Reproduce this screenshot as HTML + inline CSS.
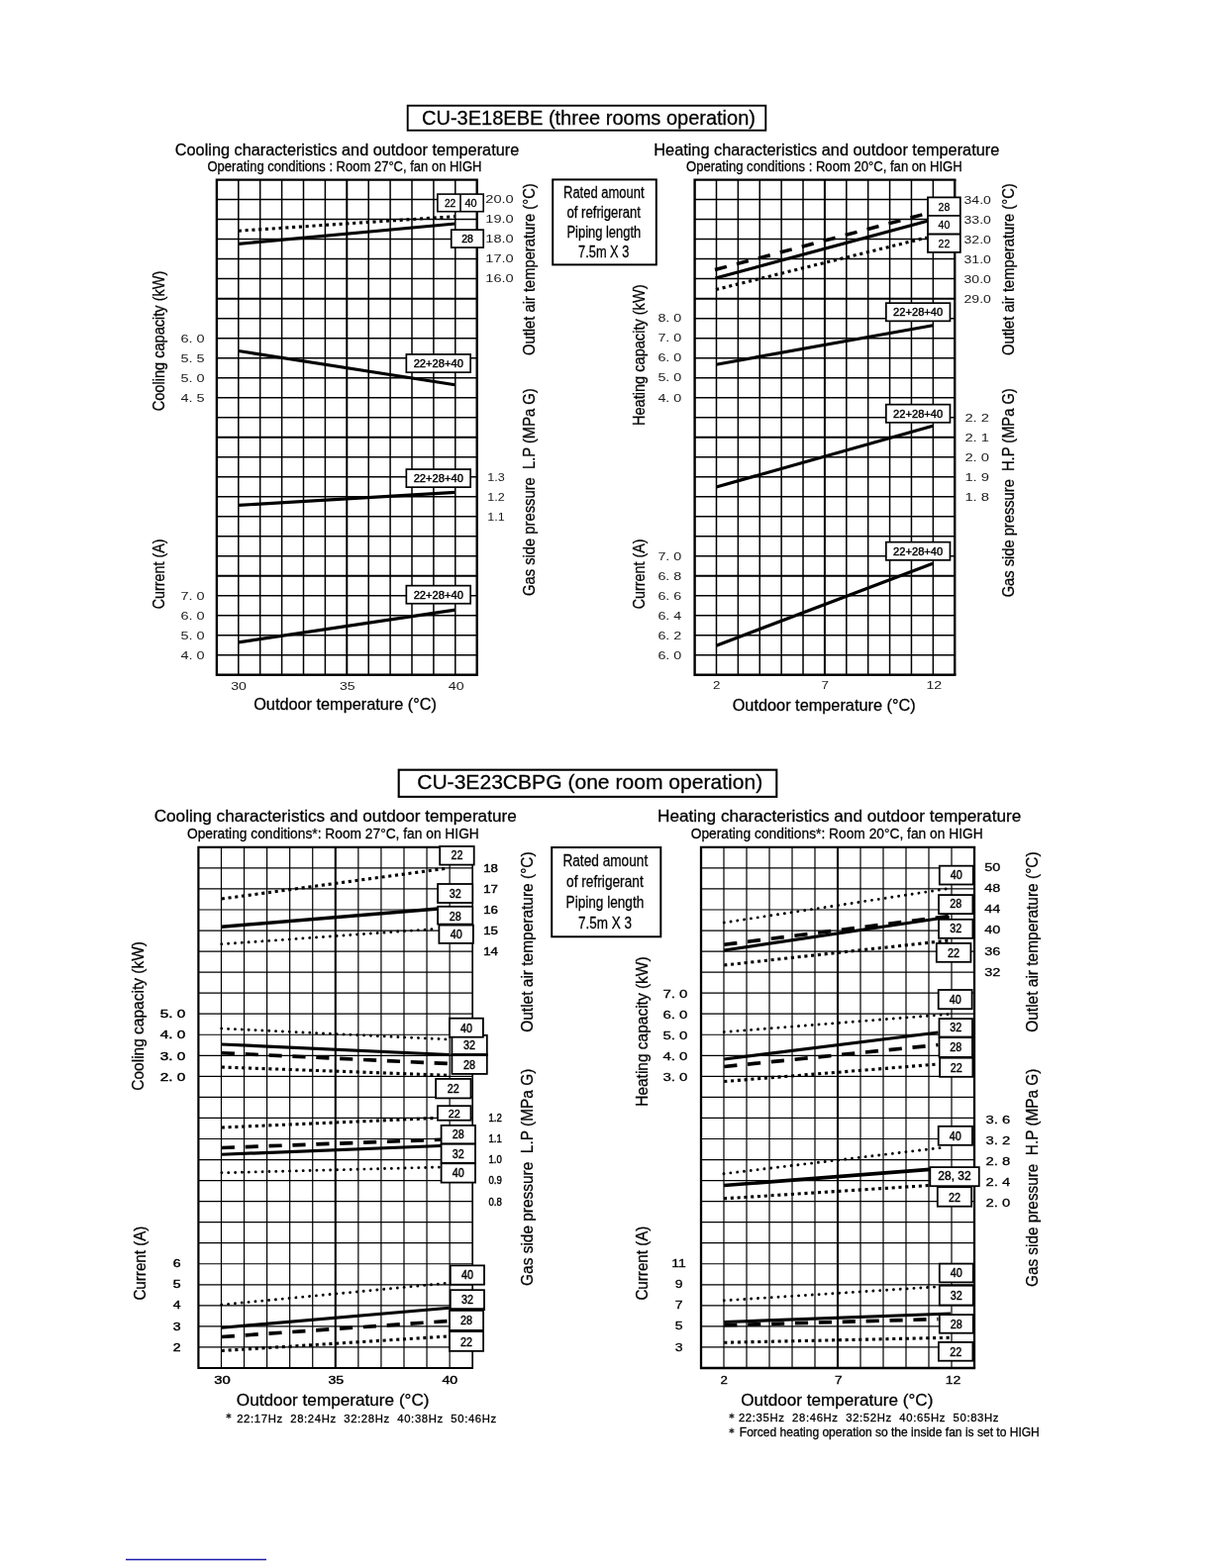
<!DOCTYPE html>
<html lang="en"><head><meta charset="utf-8"><title>Operating characteristics</title>
<style>html,body{margin:0;padding:0;background:#fff}svg{display:block}text{font-family:"Liberation Sans",sans-serif;fill:#000;stroke:#000;stroke-width:.28px;white-space:pre}text.n{stroke:none;fill:#1a1a1a}text.b{stroke-width:.42px}</style></head><body>
<svg width="1224" height="1584" viewBox="0 0 1224 1584">
<rect width="1224" height="1584" fill="#fff"/>
<rect x="411.7" y="106.7" width="361.6" height="25" fill="none" stroke="#000" stroke-width="1.9"/>
<text font-size="20.5" textLength="337" lengthAdjust="spacingAndGlyphs" x="426" y="126.3" xml:space="preserve">CU-3E18EBE (three rooms operation)</text>
<text font-size="16.5" textLength="347.4" lengthAdjust="spacingAndGlyphs" x="176.8" y="156.8" xml:space="preserve">Cooling characteristics and outdoor temperature</text>
<text font-size="14" textLength="277" lengthAdjust="spacingAndGlyphs" x="209.5" y="173.1" xml:space="preserve">Operating conditions : Room 27°C, fan on HIGH</text>
<text font-size="16.5" textLength="349" lengthAdjust="spacingAndGlyphs" x="660.3" y="156.6" xml:space="preserve">Heating characteristics and outdoor temperature</text>
<text font-size="14" textLength="278.7" lengthAdjust="spacingAndGlyphs" x="693" y="173.1" xml:space="preserve">Operating conditions : Room 20°C, fan on HIGH</text>
<rect x="558.2" y="181.4" width="104.6" height="86" fill="none" stroke="#000" stroke-width="2"/>
<text font-size="16" textLength="81.6" lengthAdjust="spacingAndGlyphs" x="569" y="199.8" xml:space="preserve">Rated amount</text>
<text font-size="16" textLength="74.4" lengthAdjust="spacingAndGlyphs" x="572.5" y="219.6" xml:space="preserve">of refrigerant</text>
<text font-size="16" textLength="74.7" lengthAdjust="spacingAndGlyphs" x="572.5" y="239.6" xml:space="preserve">Piping length</text>
<text font-size="16" textLength="51.2" lengthAdjust="spacingAndGlyphs" x="584.1" y="259.7" xml:space="preserve">7.5m X 3</text>
<path d="M240.80 181.60V681.73M262.70 181.60V681.73M284.60 181.60V681.73M306.50 181.60V681.73M328.40 181.60V681.73M372.20 181.60V681.73M394.10 181.60V681.73M416.00 181.60V681.73M437.90 181.60V681.73M459.80 181.60V681.73M218.90 201.60H481.70M218.90 221.61H481.70M218.90 241.62H481.70M218.90 261.62H481.70M218.90 281.62H481.70M218.90 321.63H481.70M218.90 341.64H481.70M218.90 361.64H481.70M218.90 381.65H481.70M218.90 401.65H481.70M218.90 421.66H481.70M218.90 461.67H481.70M218.90 481.67H481.70M218.90 501.68H481.70M218.90 521.68H481.70M218.90 541.69H481.70M218.90 561.69H481.70M218.90 601.70H481.70M218.90 621.71H481.70M218.90 641.71H481.70M218.90 661.72H481.70" stroke="#000" stroke-width="1.5" fill="none"/>
<path d="M350.30 181.60V681.73M218.90 301.63H481.70M218.90 441.66H481.70M218.90 581.70H481.70" stroke="#000" stroke-width="2" fill="none"/>
<path d="M217.70 181.60H482.90M217.70 681.73H482.90M218.90 181.60V681.73" stroke="#000" stroke-width="2.4" fill="none"/>
<path d="M481.70 181.60V681.73" stroke="#000" stroke-width="2.4" fill="none"/>
<line x1="240.8" y1="233.2" x2="460" y2="218.6" stroke="#000" stroke-width="3.1" stroke-dasharray="3.1 3.7"/>
<line x1="240.8" y1="246.4" x2="459.5" y2="226" stroke="#000" stroke-width="3.2"/>
<line x1="240.75" y1="354.5" x2="459.5" y2="388.75" stroke="#000" stroke-width="3.2"/>
<line x1="240.8" y1="510.4" x2="459.7" y2="497.3" stroke="#000" stroke-width="3.2"/>
<line x1="240.8" y1="648.8" x2="459.7" y2="616.1" stroke="#000" stroke-width="3.2"/>
<rect x="441.9" y="196.1" width="46.3" height="17.6" fill="#fff" stroke="#000" stroke-width="1.6"/>
<line x1="465" y1="196.1" x2="465" y2="213.7" stroke="#000" stroke-width="1.6"/>
<text font-size="10.5" textLength="11.4" lengthAdjust="spacingAndGlyphs" x="448.9" y="208.9" xml:space="preserve">22</text>
<text font-size="10.5" textLength="12.1" lengthAdjust="spacingAndGlyphs" x="469.4" y="208.9" xml:space="preserve">40</text>
<rect x="455.75" y="232.15" width="32.45" height="17.90" fill="#fff" stroke="#000" stroke-width="1.7"/>
<text font-size="11" text-anchor="middle" class="b" textLength="11.7" lengthAdjust="spacingAndGlyphs" x="471.975" y="244.7" xml:space="preserve">28</text>
<rect x="410.35" y="357.95" width="64.80" height="18.20" fill="#fff" stroke="#000" stroke-width="1.7"/>
<text font-size="11" text-anchor="middle" class="b" textLength="50.2" lengthAdjust="spacingAndGlyphs" x="442.75" y="370.7" xml:space="preserve">22+28+40</text>
<rect x="410.35" y="474.05" width="64.80" height="18.10" fill="#fff" stroke="#000" stroke-width="1.7"/>
<text font-size="11" text-anchor="middle" class="b" textLength="50.2" lengthAdjust="spacingAndGlyphs" x="442.75" y="487.038" xml:space="preserve">22+28+40</text>
<rect x="410.35" y="591.65" width="64.80" height="18.10" fill="#fff" stroke="#000" stroke-width="1.7"/>
<text font-size="11" text-anchor="middle" class="b" textLength="50.2" lengthAdjust="spacingAndGlyphs" x="442.75" y="604.638" xml:space="preserve">22+28+40</text>
<text font-size="11.8" font-family='"DejaVu Sans", "Liberation Sans", sans-serif' class="n" textLength="24.2" lengthAdjust="spacingAndGlyphs" x="182.4" y="346.107" xml:space="preserve">6. 0</text>
<text font-size="11.8" font-family='"DejaVu Sans", "Liberation Sans", sans-serif' class="n" textLength="24.2" lengthAdjust="spacingAndGlyphs" x="182.4" y="366.157" xml:space="preserve">5. 5</text>
<text font-size="11.8" font-family='"DejaVu Sans", "Liberation Sans", sans-serif' class="n" textLength="24.2" lengthAdjust="spacingAndGlyphs" x="182.4" y="386.207" xml:space="preserve">5. 0</text>
<text font-size="11.8" font-family='"DejaVu Sans", "Liberation Sans", sans-serif' class="n" textLength="24.2" lengthAdjust="spacingAndGlyphs" x="182.4" y="406.257" xml:space="preserve">4. 5</text>
<text font-size="11.8" font-family='"DejaVu Sans", "Liberation Sans", sans-serif' class="n" textLength="24.2" lengthAdjust="spacingAndGlyphs" x="182.4" y="606.207" xml:space="preserve">7. 0</text>
<text font-size="11.8" font-family='"DejaVu Sans", "Liberation Sans", sans-serif' class="n" textLength="24.2" lengthAdjust="spacingAndGlyphs" x="182.4" y="626.207" xml:space="preserve">6. 0</text>
<text font-size="11.8" font-family='"DejaVu Sans", "Liberation Sans", sans-serif' class="n" textLength="24.2" lengthAdjust="spacingAndGlyphs" x="182.4" y="646.207" xml:space="preserve">5. 0</text>
<text font-size="11.8" font-family='"DejaVu Sans", "Liberation Sans", sans-serif' class="n" textLength="24.2" lengthAdjust="spacingAndGlyphs" x="182.4" y="666.207" xml:space="preserve">4. 0</text>
<text font-size="11.8" font-family='"DejaVu Sans", "Liberation Sans", sans-serif' class="n" textLength="28.4" lengthAdjust="spacingAndGlyphs" x="490.3" y="205.107" xml:space="preserve">20.0</text>
<text font-size="11.8" font-family='"DejaVu Sans", "Liberation Sans", sans-serif' class="n" textLength="28.4" lengthAdjust="spacingAndGlyphs" x="490.3" y="225.107" xml:space="preserve">19.0</text>
<text font-size="11.8" font-family='"DejaVu Sans", "Liberation Sans", sans-serif' class="n" textLength="28.4" lengthAdjust="spacingAndGlyphs" x="490.3" y="245.107" xml:space="preserve">18.0</text>
<text font-size="11.8" font-family='"DejaVu Sans", "Liberation Sans", sans-serif' class="n" textLength="28.4" lengthAdjust="spacingAndGlyphs" x="490.3" y="265.107" xml:space="preserve">17.0</text>
<text font-size="11.8" font-family='"DejaVu Sans", "Liberation Sans", sans-serif' class="n" textLength="28.4" lengthAdjust="spacingAndGlyphs" x="490.3" y="285.107" xml:space="preserve">16.0</text>
<text font-size="11.8" font-family='"DejaVu Sans", "Liberation Sans", sans-serif' class="n" textLength="17.5" lengthAdjust="spacingAndGlyphs" x="492.2" y="486.207" xml:space="preserve">1.3</text>
<text font-size="11.8" font-family='"DejaVu Sans", "Liberation Sans", sans-serif' class="n" textLength="17.5" lengthAdjust="spacingAndGlyphs" x="492.2" y="506.207" xml:space="preserve">1.2</text>
<text font-size="11.8" font-family='"DejaVu Sans", "Liberation Sans", sans-serif' class="n" textLength="17.5" lengthAdjust="spacingAndGlyphs" x="492.2" y="526.207" xml:space="preserve">1.1</text>
<text font-size="16.7" textLength="141.7" lengthAdjust="spacingAndGlyphs" transform="translate(166.3 415.3) rotate(-90)" x="0" y="0" xml:space="preserve">Cooling capacity (kW)</text>
<text font-size="16.7" textLength="70.9" lengthAdjust="spacingAndGlyphs" transform="translate(166.3 615.3) rotate(-90)" x="0" y="0" xml:space="preserve">Current (A)</text>
<text font-size="16.7" textLength="173.6" lengthAdjust="spacingAndGlyphs" transform="translate(540 358.9) rotate(-90)" x="0" y="0" xml:space="preserve">Outlet air temperature (°C)</text>
<text font-size="16.7" textLength="209.7" lengthAdjust="spacingAndGlyphs" transform="translate(540 602) rotate(-90)" x="0" y="0" xml:space="preserve">Gas side pressure  L.P (MPa G)</text>
<text font-size="11.8" font-family='"DejaVu Sans", "Liberation Sans", sans-serif' class="n" textLength="15.7" lengthAdjust="spacingAndGlyphs" x="233.2" y="696.607" xml:space="preserve">30</text>
<text font-size="11.8" font-family='"DejaVu Sans", "Liberation Sans", sans-serif' class="n" textLength="15.7" lengthAdjust="spacingAndGlyphs" x="343" y="696.607" xml:space="preserve">35</text>
<text font-size="11.8" font-family='"DejaVu Sans", "Liberation Sans", sans-serif' class="n" textLength="15.7" lengthAdjust="spacingAndGlyphs" x="452.8" y="696.607" xml:space="preserve">40</text>
<text font-size="15.7" textLength="184.8" lengthAdjust="spacingAndGlyphs" x="256.2" y="717.4" xml:space="preserve">Outdoor temperature (°C)</text>
<path d="M723.49 181.60V681.73M745.37 181.60V681.73M767.25 181.60V681.73M789.14 181.60V681.73M811.03 181.60V681.73M854.80 181.60V681.73M876.68 181.60V681.73M898.57 181.60V681.73M920.45 181.60V681.73M942.34 181.60V681.73M701.60 201.60H964.22M701.60 221.61H964.22M701.60 241.62H964.22M701.60 261.62H964.22M701.60 281.62H964.22M701.60 321.63H964.22M701.60 341.64H964.22M701.60 361.64H964.22M701.60 381.65H964.22M701.60 401.65H964.22M701.60 421.66H964.22M701.60 461.67H964.22M701.60 481.67H964.22M701.60 501.68H964.22M701.60 521.68H964.22M701.60 541.69H964.22M701.60 561.69H964.22M701.60 601.70H964.22M701.60 621.71H964.22M701.60 641.71H964.22M701.60 661.72H964.22" stroke="#000" stroke-width="1.5" fill="none"/>
<path d="M832.91 181.60V681.73M701.60 301.63H964.22M701.60 441.66H964.22M701.60 581.70H964.22" stroke="#000" stroke-width="2" fill="none"/>
<path d="M700.40 181.60H965.42M700.40 681.73H965.42M701.60 181.60V681.73" stroke="#000" stroke-width="2.4" fill="none"/>
<path d="M964.22 181.60V681.73" stroke="#000" stroke-width="2.4" fill="none"/>
<line x1="722" y1="272.5" x2="933.75" y2="216.25" stroke="#000" stroke-width="3.5" stroke-dasharray="12.3 10.4"/>
<line x1="722.5" y1="281" x2="937.5" y2="223" stroke="#000" stroke-width="3.2"/>
<line x1="723" y1="292.5" x2="936" y2="240" stroke="#000" stroke-width="3.1" stroke-dasharray="3.1 3.7"/>
<line x1="723.3" y1="368.2" x2="942" y2="328.8" stroke="#000" stroke-width="3.2"/>
<line x1="723.3" y1="492" x2="942" y2="430.2" stroke="#000" stroke-width="3.2"/>
<line x1="723.3" y1="652.2" x2="942" y2="569.3" stroke="#000" stroke-width="3.2"/>
<rect x="937" y="199.4" width="32.8" height="55.5" fill="#fff" stroke="#000" stroke-width="1.8"/>
<path d="M937 217.8H969.8M937 236.5H969.8" stroke="#000" stroke-width="1.8"/>
<text font-size="11" text-anchor="middle" textLength="11.7" lengthAdjust="spacingAndGlyphs" x="953.4" y="212.5" xml:space="preserve">28</text>
<text font-size="11" text-anchor="middle" textLength="11.7" lengthAdjust="spacingAndGlyphs" x="953.4" y="231.1" xml:space="preserve">40</text>
<text font-size="11" text-anchor="middle" textLength="11.7" lengthAdjust="spacingAndGlyphs" x="953.4" y="250.2" xml:space="preserve">22</text>
<rect x="894.85" y="306.15" width="64.60" height="18.20" fill="#fff" stroke="#000" stroke-width="1.7"/>
<text font-size="11" text-anchor="middle" class="b" textLength="50.2" lengthAdjust="spacingAndGlyphs" x="927.15" y="319.188" xml:space="preserve">22+28+40</text>
<rect x="894.85" y="408.65" width="64.60" height="18.20" fill="#fff" stroke="#000" stroke-width="1.7"/>
<text font-size="11" text-anchor="middle" class="b" textLength="50.2" lengthAdjust="spacingAndGlyphs" x="927.15" y="421.688" xml:space="preserve">22+28+40</text>
<rect x="894.85" y="547.65" width="64.60" height="18.20" fill="#fff" stroke="#000" stroke-width="1.7"/>
<text font-size="11" text-anchor="middle" class="b" textLength="50.2" lengthAdjust="spacingAndGlyphs" x="927.15" y="560.688" xml:space="preserve">22+28+40</text>
<text font-size="11.8" font-family='"DejaVu Sans", "Liberation Sans", sans-serif' class="n" textLength="23.9" lengthAdjust="spacingAndGlyphs" x="664.4" y="325.307" xml:space="preserve">8. 0</text>
<text font-size="11.8" font-family='"DejaVu Sans", "Liberation Sans", sans-serif' class="n" textLength="23.9" lengthAdjust="spacingAndGlyphs" x="664.4" y="345.357" xml:space="preserve">7. 0</text>
<text font-size="11.8" font-family='"DejaVu Sans", "Liberation Sans", sans-serif' class="n" textLength="23.9" lengthAdjust="spacingAndGlyphs" x="664.4" y="365.407" xml:space="preserve">6. 0</text>
<text font-size="11.8" font-family='"DejaVu Sans", "Liberation Sans", sans-serif' class="n" textLength="23.9" lengthAdjust="spacingAndGlyphs" x="664.4" y="385.457" xml:space="preserve">5. 0</text>
<text font-size="11.8" font-family='"DejaVu Sans", "Liberation Sans", sans-serif' class="n" textLength="23.9" lengthAdjust="spacingAndGlyphs" x="664.4" y="405.507" xml:space="preserve">4. 0</text>
<text font-size="11.8" font-family='"DejaVu Sans", "Liberation Sans", sans-serif' class="n" textLength="23.9" lengthAdjust="spacingAndGlyphs" x="664.4" y="565.507" xml:space="preserve">7. 0</text>
<text font-size="11.8" font-family='"DejaVu Sans", "Liberation Sans", sans-serif' class="n" textLength="23.9" lengthAdjust="spacingAndGlyphs" x="664.4" y="585.507" xml:space="preserve">6. 8</text>
<text font-size="11.8" font-family='"DejaVu Sans", "Liberation Sans", sans-serif' class="n" textLength="23.9" lengthAdjust="spacingAndGlyphs" x="664.4" y="605.507" xml:space="preserve">6. 6</text>
<text font-size="11.8" font-family='"DejaVu Sans", "Liberation Sans", sans-serif' class="n" textLength="23.9" lengthAdjust="spacingAndGlyphs" x="664.4" y="625.507" xml:space="preserve">6. 4</text>
<text font-size="11.8" font-family='"DejaVu Sans", "Liberation Sans", sans-serif' class="n" textLength="23.9" lengthAdjust="spacingAndGlyphs" x="664.4" y="645.507" xml:space="preserve">6. 2</text>
<text font-size="11.8" font-family='"DejaVu Sans", "Liberation Sans", sans-serif' class="n" textLength="23.9" lengthAdjust="spacingAndGlyphs" x="664.4" y="665.507" xml:space="preserve">6. 0</text>
<text font-size="11.8" font-family='"DejaVu Sans", "Liberation Sans", sans-serif' class="n" textLength="27.2" lengthAdjust="spacingAndGlyphs" x="973.6" y="205.607" xml:space="preserve">34.0</text>
<text font-size="11.8" font-family='"DejaVu Sans", "Liberation Sans", sans-serif' class="n" textLength="27.2" lengthAdjust="spacingAndGlyphs" x="973.6" y="225.657" xml:space="preserve">33.0</text>
<text font-size="11.8" font-family='"DejaVu Sans", "Liberation Sans", sans-serif' class="n" textLength="27.2" lengthAdjust="spacingAndGlyphs" x="973.6" y="245.707" xml:space="preserve">32.0</text>
<text font-size="11.8" font-family='"DejaVu Sans", "Liberation Sans", sans-serif' class="n" textLength="27.2" lengthAdjust="spacingAndGlyphs" x="973.6" y="265.757" xml:space="preserve">31.0</text>
<text font-size="11.8" font-family='"DejaVu Sans", "Liberation Sans", sans-serif' class="n" textLength="27.2" lengthAdjust="spacingAndGlyphs" x="973.6" y="285.807" xml:space="preserve">30.0</text>
<text font-size="11.8" font-family='"DejaVu Sans", "Liberation Sans", sans-serif' class="n" textLength="27.2" lengthAdjust="spacingAndGlyphs" x="973.6" y="305.857" xml:space="preserve">29.0</text>
<text font-size="11.8" font-family='"DejaVu Sans", "Liberation Sans", sans-serif' class="n" textLength="24.6" lengthAdjust="spacingAndGlyphs" x="974.4" y="426.007" xml:space="preserve">2. 2</text>
<text font-size="11.8" font-family='"DejaVu Sans", "Liberation Sans", sans-serif' class="n" textLength="24.6" lengthAdjust="spacingAndGlyphs" x="974.4" y="446.007" xml:space="preserve">2. 1</text>
<text font-size="11.8" font-family='"DejaVu Sans", "Liberation Sans", sans-serif' class="n" textLength="24.6" lengthAdjust="spacingAndGlyphs" x="974.4" y="466.007" xml:space="preserve">2. 0</text>
<text font-size="11.8" font-family='"DejaVu Sans", "Liberation Sans", sans-serif' class="n" textLength="24.6" lengthAdjust="spacingAndGlyphs" x="974.4" y="486.007" xml:space="preserve">1. 9</text>
<text font-size="11.8" font-family='"DejaVu Sans", "Liberation Sans", sans-serif' class="n" textLength="24.6" lengthAdjust="spacingAndGlyphs" x="974.4" y="506.007" xml:space="preserve">1. 8</text>
<text font-size="16.7" textLength="142.5" lengthAdjust="spacingAndGlyphs" transform="translate(650.5 430) rotate(-90)" x="0" y="0" xml:space="preserve">Heating capacity (kW)</text>
<text font-size="16.7" textLength="70.9" lengthAdjust="spacingAndGlyphs" transform="translate(650.5 615.3) rotate(-90)" x="0" y="0" xml:space="preserve">Current (A)</text>
<text font-size="16.7" textLength="173.6" lengthAdjust="spacingAndGlyphs" transform="translate(1023.5 358.9) rotate(-90)" x="0" y="0" xml:space="preserve">Outlet air temperature (°C)</text>
<text font-size="16.7" textLength="211" lengthAdjust="spacingAndGlyphs" transform="translate(1023.5 603.3) rotate(-90)" x="0" y="0" xml:space="preserve">Gas side pressure  H.P (MPa G)</text>
<text font-size="11.8" font-family='"DejaVu Sans", "Liberation Sans", sans-serif' class="n" textLength="7.4" lengthAdjust="spacingAndGlyphs" x="720" y="696.407" xml:space="preserve">2</text>
<text font-size="11.8" font-family='"DejaVu Sans", "Liberation Sans", sans-serif' class="n" textLength="7.4" lengthAdjust="spacingAndGlyphs" x="829.5" y="696.407" xml:space="preserve">7</text>
<text font-size="11.8" font-family='"DejaVu Sans", "Liberation Sans", sans-serif' class="n" textLength="15.7" lengthAdjust="spacingAndGlyphs" x="935.5" y="696.407" xml:space="preserve">12</text>
<text font-size="15.7" textLength="185" lengthAdjust="spacingAndGlyphs" x="739.7" y="717.8" xml:space="preserve">Outdoor temperature (°C)</text>
<rect x="402.7" y="777.7" width="381.6" height="27.2" fill="none" stroke="#000" stroke-width="2.1"/>
<text font-size="21" textLength="349" lengthAdjust="spacingAndGlyphs" x="421.2" y="797" xml:space="preserve">CU-3E23CBPG (one room operation)</text>
<text font-size="16.5" textLength="366" lengthAdjust="spacingAndGlyphs" x="155.7" y="830.2" xml:space="preserve">Cooling characteristics and outdoor temperature</text>
<text font-size="15.2" textLength="294.8" lengthAdjust="spacingAndGlyphs" x="189" y="847.4" xml:space="preserve">Operating conditions*: Room 27°C, fan on HIGH</text>
<text font-size="16.5" textLength="367.2" lengthAdjust="spacingAndGlyphs" x="664" y="829.8" xml:space="preserve">Heating characteristics and outdoor temperature</text>
<text font-size="15.2" textLength="295" lengthAdjust="spacingAndGlyphs" x="697.7" y="847.4" xml:space="preserve">Operating conditions*: Room 20°C, fan on HIGH</text>
<rect x="557.2" y="856.05" width="110.1" height="90.25" fill="none" stroke="#000" stroke-width="2"/>
<path d="M223.47 855.85V1382.00M246.53 855.85V1382.00M269.60 855.85V1382.00M292.66 855.85V1382.00M315.73 855.85V1382.00M361.86 855.85V1382.00M384.92 855.85V1382.00M407.99 855.85V1382.00M431.05 855.85V1382.00M454.12 855.85V1382.00M200.40 876.90H477.18M200.40 897.94H477.18M200.40 918.99H477.18M200.40 940.03H477.18M200.40 961.08H477.18M200.40 982.13H477.18M200.40 1003.17H477.18M200.40 1024.22H477.18M200.40 1045.26H477.18M200.40 1066.31H477.18M200.40 1087.36H477.18M200.40 1108.40H477.18M200.40 1129.45H477.18M200.40 1150.49H477.18M200.40 1171.54H477.18M200.40 1192.59H477.18M200.40 1213.63H477.18M200.40 1234.68H477.18M200.40 1255.72H477.18M200.40 1276.77H477.18M200.40 1297.82H477.18M200.40 1318.86H477.18M200.40 1339.91H477.18M200.40 1360.95H477.18" stroke="#000" stroke-width="1.2" fill="none"/>
<path d="M338.79 855.85V1382.00" stroke="#000" stroke-width="2.1" fill="none"/>
<path d="M199.30 855.85H478.03M199.30 1382.00H478.03M200.40 855.85V1382.00" stroke="#000" stroke-width="2.2" fill="none"/>
<path d="M477.18 855.85V1382.00" stroke="#000" stroke-width="1.7" fill="none"/>
<line x1="223.75" y1="908" x2="452.5" y2="877" stroke="#000" stroke-width="3.1" stroke-dasharray="3.1 3.7"/>
<line x1="223.75" y1="936.25" x2="442.5" y2="918" stroke="#000" stroke-width="3.6"/>
<line x1="223.75" y1="953.75" x2="441.25" y2="938.25" stroke="#000" stroke-width="2.9" stroke-dasharray="0.01 6.85" stroke-linecap="round"/>
<line x1="223.75" y1="1039" x2="452.5" y2="1050" stroke="#000" stroke-width="2.9" stroke-dasharray="0.01 6.85" stroke-linecap="round"/>
<line x1="223.75" y1="1055" x2="453.75" y2="1065.5" stroke="#000" stroke-width="3.2"/>
<line x1="223.75" y1="1063.75" x2="452.5" y2="1074.5" stroke="#000" stroke-width="3.7" stroke-dasharray="13.2 10.7"/>
<line x1="223.75" y1="1078" x2="452.5" y2="1086.25" stroke="#000" stroke-width="3.1" stroke-dasharray="3.1 3.7"/>
<line x1="223.75" y1="1139" x2="440" y2="1129.5" stroke="#000" stroke-width="3.1" stroke-dasharray="3.1 3.7"/>
<line x1="223.75" y1="1159.5" x2="445" y2="1151.25" stroke="#000" stroke-width="3.7" stroke-dasharray="13.2 10.7"/>
<line x1="223.75" y1="1166.25" x2="445" y2="1157.5" stroke="#000" stroke-width="3.2"/>
<line x1="223.9" y1="1184.8" x2="444.4" y2="1179.1" stroke="#000" stroke-width="2.9" stroke-dasharray="0.01 6.85" stroke-linecap="round"/>
<line x1="223.75" y1="1318" x2="451.25" y2="1296.25" stroke="#000" stroke-width="2.9" stroke-dasharray="0.01 6.85" stroke-linecap="round"/>
<line x1="223.75" y1="1341.25" x2="453.75" y2="1321.25" stroke="#000" stroke-width="3.2"/>
<line x1="223.75" y1="1350.5" x2="452.5" y2="1334.5" stroke="#000" stroke-width="3.7" stroke-dasharray="13.2 10.7"/>
<line x1="223.75" y1="1364.5" x2="452.5" y2="1350" stroke="#000" stroke-width="3.1" stroke-dasharray="3.1 3.7"/>
<rect x="444.20" y="855.00" width="34.50" height="18.60" fill="#fff" stroke="#000" stroke-width="1.8"/>
<text font-size="12.3" text-anchor="middle" class="b" textLength="12" lengthAdjust="spacingAndGlyphs" x="461.45" y="868.4" xml:space="preserve">22</text>
<rect x="442.10" y="893.00" width="35.20" height="19.00" fill="#fff" stroke="#000" stroke-width="1.8"/>
<text font-size="12.3" text-anchor="middle" class="b" textLength="12" lengthAdjust="spacingAndGlyphs" x="459.7" y="907.2" xml:space="preserve">32</text>
<rect x="442.10" y="915.80" width="35.20" height="17.80" fill="#fff" stroke="#000" stroke-width="1.8"/>
<text font-size="12.3" text-anchor="middle" class="b" textLength="12" lengthAdjust="spacingAndGlyphs" x="459.7" y="929.6" xml:space="preserve">28</text>
<rect x="443.40" y="934.60" width="34.50" height="18.30" fill="#fff" stroke="#000" stroke-width="1.8"/>
<text font-size="12.3" text-anchor="middle" class="b" textLength="12" lengthAdjust="spacingAndGlyphs" x="460.65" y="947.6" xml:space="preserve">40</text>
<rect x="456.40" y="1045.80" width="35.40" height="19.50" fill="#fff" stroke="#000" stroke-width="1.8"/>
<text font-size="12.3" text-anchor="middle" class="b" textLength="12" lengthAdjust="spacingAndGlyphs" x="474.1" y="1059.6" xml:space="preserve">32</text>
<rect x="456.40" y="1065.40" width="35.40" height="19.50" fill="#fff" stroke="#000" stroke-width="1.8"/>
<text font-size="12.3" text-anchor="middle" class="b" textLength="12" lengthAdjust="spacingAndGlyphs" x="474.1" y="1079.6" xml:space="preserve">28</text>
<line x1="455.5" y1="1065.6" x2="492.7" y2="1065.6" stroke="#000" stroke-width="2.8"/>
<rect x="454.00" y="1028.70" width="33.90" height="19.00" fill="#fff" stroke="#000" stroke-width="1.8"/>
<text font-size="12.3" text-anchor="middle" class="b" textLength="12" lengthAdjust="spacingAndGlyphs" x="470.95" y="1042.5" xml:space="preserve">40</text>
<rect x="440.10" y="1089.90" width="35.40" height="19.50" fill="#fff" stroke="#000" stroke-width="1.8"/>
<text font-size="12.3" text-anchor="middle" class="b" textLength="12" lengthAdjust="spacingAndGlyphs" x="457.8" y="1104.2" xml:space="preserve">22</text>
<rect x="442.00" y="1117.20" width="33.50" height="14.50" fill="#fff" stroke="#000" stroke-width="1.8"/>
<text font-size="11.3" text-anchor="middle" class="b" textLength="12" lengthAdjust="spacingAndGlyphs" x="458.75" y="1128.7" xml:space="preserve">22</text>
<rect x="445.60" y="1136.90" width="34.40" height="18.50" fill="#fff" stroke="#000" stroke-width="1.8"/>
<text font-size="12.3" text-anchor="middle" class="b" textLength="12" lengthAdjust="spacingAndGlyphs" x="462.8" y="1150.1" xml:space="preserve">28</text>
<rect x="445.60" y="1155.70" width="34.40" height="19.10" fill="#fff" stroke="#000" stroke-width="1.8"/>
<text font-size="12.3" text-anchor="middle" class="b" textLength="12" lengthAdjust="spacingAndGlyphs" x="462.8" y="1169.5" xml:space="preserve">32</text>
<rect x="445.60" y="1175.30" width="34.40" height="19.30" fill="#fff" stroke="#000" stroke-width="1.8"/>
<text font-size="12.3" text-anchor="middle" class="b" textLength="12" lengthAdjust="spacingAndGlyphs" x="462.8" y="1189.2" xml:space="preserve">40</text>
<rect x="454.80" y="1278.40" width="34.20" height="19.30" fill="#fff" stroke="#000" stroke-width="1.8"/>
<text font-size="12.3" text-anchor="middle" class="b" textLength="12" lengthAdjust="spacingAndGlyphs" x="471.9" y="1292.2" xml:space="preserve">40</text>
<rect x="454.80" y="1303.20" width="34.20" height="19.80" fill="#fff" stroke="#000" stroke-width="1.8"/>
<text font-size="12.3" text-anchor="middle" class="b" textLength="12" lengthAdjust="spacingAndGlyphs" x="471.9" y="1317.2" xml:space="preserve">32</text>
<rect x="454.00" y="1323.90" width="34.10" height="20.80" fill="#fff" stroke="#000" stroke-width="1.8"/>
<text font-size="12.3" text-anchor="middle" class="b" textLength="12" lengthAdjust="spacingAndGlyphs" x="471.05" y="1338" xml:space="preserve">28</text>
<rect x="454.00" y="1344.90" width="34.10" height="19.95" fill="#fff" stroke="#000" stroke-width="1.8"/>
<text font-size="12.3" text-anchor="middle" class="b" textLength="12" lengthAdjust="spacingAndGlyphs" x="471.05" y="1359.5" xml:space="preserve">22</text>
<path d="M453.9 1322.6H489.9M453.1 1344.4H489" stroke="#000" stroke-width="2.8"/>
<text font-size="11.7" font-family='"DejaVu Sans", "Liberation Sans", sans-serif' class="b" textLength="25.5" lengthAdjust="spacingAndGlyphs" x="161.7" y="1028.27" xml:space="preserve">5. 0</text>
<text font-size="11.7" font-family='"DejaVu Sans", "Liberation Sans", sans-serif' class="b" textLength="25.5" lengthAdjust="spacingAndGlyphs" x="161.7" y="1049.47" xml:space="preserve">4. 0</text>
<text font-size="11.7" font-family='"DejaVu Sans", "Liberation Sans", sans-serif' class="b" textLength="25.5" lengthAdjust="spacingAndGlyphs" x="161.7" y="1070.67" xml:space="preserve">3. 0</text>
<text font-size="11.7" font-family='"DejaVu Sans", "Liberation Sans", sans-serif' class="b" textLength="25.5" lengthAdjust="spacingAndGlyphs" x="161.7" y="1091.87" xml:space="preserve">2. 0</text>
<text font-size="11.7" font-family='"DejaVu Sans", "Liberation Sans", sans-serif' class="b" textLength="7.8" lengthAdjust="spacingAndGlyphs" x="174.7" y="1280.27" xml:space="preserve">6</text>
<text font-size="11.7" font-family='"DejaVu Sans", "Liberation Sans", sans-serif' class="b" textLength="7.8" lengthAdjust="spacingAndGlyphs" x="174.7" y="1301.37" xml:space="preserve">5</text>
<text font-size="11.7" font-family='"DejaVu Sans", "Liberation Sans", sans-serif' class="b" textLength="7.8" lengthAdjust="spacingAndGlyphs" x="174.7" y="1322.47" xml:space="preserve">4</text>
<text font-size="11.7" font-family='"DejaVu Sans", "Liberation Sans", sans-serif' class="b" textLength="7.8" lengthAdjust="spacingAndGlyphs" x="174.7" y="1343.57" xml:space="preserve">3</text>
<text font-size="11.7" font-family='"DejaVu Sans", "Liberation Sans", sans-serif' class="b" textLength="7.8" lengthAdjust="spacingAndGlyphs" x="174.7" y="1364.67" xml:space="preserve">2</text>
<text font-size="11.7" font-family='"DejaVu Sans", "Liberation Sans", sans-serif' class="b" textLength="14.7" lengthAdjust="spacingAndGlyphs" x="488.2" y="880.57" xml:space="preserve">18</text>
<text font-size="11.7" font-family='"DejaVu Sans", "Liberation Sans", sans-serif' class="b" textLength="14.7" lengthAdjust="spacingAndGlyphs" x="488.2" y="901.67" xml:space="preserve">17</text>
<text font-size="11.7" font-family='"DejaVu Sans", "Liberation Sans", sans-serif' class="b" textLength="14.7" lengthAdjust="spacingAndGlyphs" x="488.2" y="922.77" xml:space="preserve">16</text>
<text font-size="11.7" font-family='"DejaVu Sans", "Liberation Sans", sans-serif' class="b" textLength="14.7" lengthAdjust="spacingAndGlyphs" x="488.2" y="943.87" xml:space="preserve">15</text>
<text font-size="11.7" font-family='"DejaVu Sans", "Liberation Sans", sans-serif' class="b" textLength="14.7" lengthAdjust="spacingAndGlyphs" x="488.2" y="964.97" xml:space="preserve">14</text>
<text font-size="11.4" class="b" textLength="13.3" lengthAdjust="spacingAndGlyphs" x="493.5" y="1132.66" xml:space="preserve">1.2</text>
<text font-size="11.4" class="b" textLength="13.3" lengthAdjust="spacingAndGlyphs" x="493.5" y="1153.91" xml:space="preserve">1.1</text>
<text font-size="11.4" class="b" textLength="13.3" lengthAdjust="spacingAndGlyphs" x="493.5" y="1175.16" xml:space="preserve">1.0</text>
<text font-size="11.4" class="b" textLength="13.3" lengthAdjust="spacingAndGlyphs" x="493.5" y="1196.41" xml:space="preserve">0.9</text>
<text font-size="11.4" class="b" textLength="13.3" lengthAdjust="spacingAndGlyphs" x="493.5" y="1217.66" xml:space="preserve">0.8</text>
<text font-size="17.3" textLength="150.6" lengthAdjust="spacingAndGlyphs" transform="translate(145.3 1101.7) rotate(-90)" x="0" y="0" xml:space="preserve">Cooling capacity (kW)</text>
<text font-size="17.3" textLength="75" lengthAdjust="spacingAndGlyphs" transform="translate(146.5 1313.6) rotate(-90)" x="0" y="0" xml:space="preserve">Current (A)</text>
<text font-size="17.3" textLength="182.5" lengthAdjust="spacingAndGlyphs" transform="translate(538 1042.8) rotate(-90)" x="0" y="0" xml:space="preserve">Outlet air temperature (°C)</text>
<text font-size="17.3" textLength="219.2" lengthAdjust="spacingAndGlyphs" transform="translate(537.5 1298.9) rotate(-90)" x="0" y="0" xml:space="preserve">Gas side pressure  L.P (MPa G)</text>
<text font-size="11.7" font-family='"DejaVu Sans", "Liberation Sans", sans-serif' class="b" textLength="16.5" lengthAdjust="spacingAndGlyphs" x="216.2" y="1397.57" xml:space="preserve">30</text>
<text font-size="11.7" font-family='"DejaVu Sans", "Liberation Sans", sans-serif' class="b" textLength="15.7" lengthAdjust="spacingAndGlyphs" x="331.5" y="1397.57" xml:space="preserve">35</text>
<text font-size="11.7" font-family='"DejaVu Sans", "Liberation Sans", sans-serif' class="b" textLength="15.7" lengthAdjust="spacingAndGlyphs" x="446.5" y="1397.57" xml:space="preserve">40</text>
<text font-size="16.7" textLength="194.8" lengthAdjust="spacingAndGlyphs" x="238.8" y="1420.3" xml:space="preserve">Outdoor temperature (°C)</text>
<text font-size="12" font-family='"Noto Sans CJK JP", "Liberation Sans", sans-serif' text-anchor="middle" x="231.4" y="1436.3" xml:space="preserve">＊</text>
<text font-size="11.3" fill="#111" textLength="262" lengthAdjust="spacing" x="239.2" y="1436.5" xml:space="preserve">22:17Hz  28:24Hz  32:28Hz  40:38Hz  50:46Hz</text>
<text font-size="16.8" textLength="85.8" lengthAdjust="spacingAndGlyphs" x="568.4" y="875.4" xml:space="preserve">Rated amount</text>
<text font-size="16.8" textLength="77.6" lengthAdjust="spacingAndGlyphs" x="572.1" y="896.2" xml:space="preserve">of refrigerant</text>
<text font-size="16.8" textLength="78.7" lengthAdjust="spacingAndGlyphs" x="571.6" y="917.3" xml:space="preserve">Piping length</text>
<text font-size="16.8" textLength="53.9" lengthAdjust="spacingAndGlyphs" x="584.1" y="938.4" xml:space="preserve">7.5m X 3</text>
<path d="M731.00 855.85V1382.00M754.00 855.85V1382.00M777.00 855.85V1382.00M800.00 855.85V1382.00M823.00 855.85V1382.00M869.00 855.85V1382.00M892.00 855.85V1382.00M915.00 855.85V1382.00M938.00 855.85V1382.00M961.00 855.85V1382.00M708.00 876.90H984.00M708.00 897.94H984.00M708.00 918.99H984.00M708.00 940.03H984.00M708.00 961.08H984.00M708.00 982.13H984.00M708.00 1003.17H984.00M708.00 1024.22H984.00M708.00 1045.26H984.00M708.00 1066.31H984.00M708.00 1087.36H984.00M708.00 1108.40H984.00M708.00 1129.45H984.00M708.00 1150.49H984.00M708.00 1171.54H984.00M708.00 1192.59H984.00M708.00 1213.63H984.00M708.00 1234.68H984.00M708.00 1255.72H984.00M708.00 1276.77H984.00M708.00 1297.82H984.00M708.00 1318.86H984.00M708.00 1339.91H984.00M708.00 1360.95H984.00" stroke="#000" stroke-width="1.2" fill="none"/>
<path d="M846.00 855.85V1382.00" stroke="#000" stroke-width="2.1" fill="none"/>
<path d="M706.85 855.85H985.15M706.85 1382.00H985.15M708.00 855.85V1382.00" stroke="#000" stroke-width="2.3" fill="none"/>
<path d="M984.00 855.85V1382.00" stroke="#000" stroke-width="2.3" fill="none"/>
<line x1="731.25" y1="932" x2="958.75" y2="897.5" stroke="#000" stroke-width="2.9" stroke-dasharray="0.01 6.85" stroke-linecap="round"/>
<line x1="731.25" y1="954.25" x2="958.75" y2="925.5" stroke="#000" stroke-width="3.7" stroke-dasharray="13.2 10.7"/>
<line x1="731.25" y1="960" x2="958.75" y2="926.25" stroke="#000" stroke-width="3.2"/>
<line x1="731.25" y1="975" x2="958.75" y2="950" stroke="#000" stroke-width="3.1" stroke-dasharray="3.1 3.7"/>
<line x1="731.25" y1="1042.5" x2="958.75" y2="1024.5" stroke="#000" stroke-width="2.9" stroke-dasharray="0.01 6.85" stroke-linecap="round"/>
<line x1="731.25" y1="1070" x2="947.5" y2="1043" stroke="#000" stroke-width="3.2"/>
<line x1="731.25" y1="1077.5" x2="947.5" y2="1055.5" stroke="#000" stroke-width="3.7" stroke-dasharray="13.2 10.7"/>
<line x1="731.25" y1="1092.5" x2="947.5" y2="1075" stroke="#000" stroke-width="3.1" stroke-dasharray="3.1 3.7"/>
<line x1="731" y1="1185.7" x2="955.7" y2="1158.8" stroke="#000" stroke-width="2.9" stroke-dasharray="0.01 6.85" stroke-linecap="round"/>
<line x1="731" y1="1197.5" x2="938.8" y2="1181.4" stroke="#000" stroke-width="3.6"/>
<line x1="731" y1="1210.8" x2="938.8" y2="1197.5" stroke="#000" stroke-width="3.1" stroke-dasharray="3.1 3.7"/>
<line x1="731.25" y1="1313.75" x2="945" y2="1300" stroke="#000" stroke-width="2.9" stroke-dasharray="0.01 6.85" stroke-linecap="round"/>
<line x1="731.25" y1="1335.5" x2="960" y2="1327" stroke="#000" stroke-width="3.2"/>
<line x1="731.25" y1="1338.75" x2="947.5" y2="1332.5" stroke="#000" stroke-width="3.7" stroke-dasharray="13.2 10.7"/>
<line x1="731.25" y1="1356.25" x2="961.25" y2="1351.25" stroke="#000" stroke-width="3.1" stroke-dasharray="3.1 3.7"/>
<rect x="948.80" y="874.70" width="34.00" height="18.80" fill="#fff" stroke="#000" stroke-width="1.8"/>
<text font-size="12.3" text-anchor="middle" class="b" textLength="12" lengthAdjust="spacingAndGlyphs" x="965.8" y="887.9" xml:space="preserve">40</text>
<rect x="948.00" y="904.10" width="34.40" height="19.00" fill="#fff" stroke="#000" stroke-width="1.8"/>
<text font-size="12.3" text-anchor="middle" class="b" textLength="12" lengthAdjust="spacingAndGlyphs" x="965.2" y="917.3" xml:space="preserve">28</text>
<rect x="948.00" y="928.80" width="34.40" height="19.00" fill="#fff" stroke="#000" stroke-width="1.8"/>
<text font-size="12.3" text-anchor="middle" class="b" textLength="12" lengthAdjust="spacingAndGlyphs" x="965.2" y="942.2" xml:space="preserve">32</text>
<rect x="945.80" y="952.90" width="34.60" height="18.90" fill="#fff" stroke="#000" stroke-width="1.8"/>
<text font-size="12.3" text-anchor="middle" class="b" textLength="12" lengthAdjust="spacingAndGlyphs" x="963.1" y="967.1" xml:space="preserve">22</text>
<rect x="947.70" y="1000.00" width="33.90" height="19.20" fill="#fff" stroke="#000" stroke-width="1.8"/>
<text font-size="12.3" text-anchor="middle" class="b" textLength="12" lengthAdjust="spacingAndGlyphs" x="964.65" y="1014.1" xml:space="preserve">40</text>
<rect x="948.50" y="1029.10" width="33.50" height="18.40" fill="#fff" stroke="#000" stroke-width="1.8"/>
<text font-size="12.3" text-anchor="middle" class="b" textLength="12" lengthAdjust="spacingAndGlyphs" x="965.25" y="1042.3" xml:space="preserve">32</text>
<rect x="948.50" y="1048.10" width="33.50" height="19.80" fill="#fff" stroke="#000" stroke-width="1.8"/>
<text font-size="12.3" text-anchor="middle" class="b" textLength="12" lengthAdjust="spacingAndGlyphs" x="965.25" y="1062.3" xml:space="preserve">28</text>
<rect x="949.10" y="1068.70" width="33.30" height="19.10" fill="#fff" stroke="#000" stroke-width="1.8"/>
<text font-size="12.3" text-anchor="middle" class="b" textLength="12" lengthAdjust="spacingAndGlyphs" x="965.75" y="1082.7" xml:space="preserve">22</text>
<rect x="947.70" y="1137.80" width="34.30" height="19.00" fill="#fff" stroke="#000" stroke-width="1.8"/>
<text font-size="12.3" text-anchor="middle" class="b" textLength="12" lengthAdjust="spacingAndGlyphs" x="964.85" y="1151.5" xml:space="preserve">40</text>
<rect x="946.80" y="1199.20" width="34.30" height="19.50" fill="#fff" stroke="#000" stroke-width="1.8"/>
<text font-size="12.3" text-anchor="middle" class="b" textLength="12" lengthAdjust="spacingAndGlyphs" x="963.95" y="1213.5" xml:space="preserve">22</text>
<rect x="939.30" y="1179.10" width="49.45" height="19.10" fill="#fff" stroke="#000" stroke-width="1.8"/>
<text font-size="12.3" text-anchor="middle" class="b" textLength="33.4" lengthAdjust="spacingAndGlyphs" x="964.025" y="1192.3" xml:space="preserve">28, 32</text>
<rect x="948.80" y="1276.60" width="34.00" height="18.80" fill="#fff" stroke="#000" stroke-width="1.8"/>
<text font-size="12.3" text-anchor="middle" class="b" textLength="12" lengthAdjust="spacingAndGlyphs" x="965.8" y="1290.4" xml:space="preserve">40</text>
<rect x="948.80" y="1298.70" width="34.00" height="19.80" fill="#fff" stroke="#000" stroke-width="1.8"/>
<text font-size="12.3" text-anchor="middle" class="b" textLength="12" lengthAdjust="spacingAndGlyphs" x="965.8" y="1312.5" xml:space="preserve">32</text>
<rect x="948.80" y="1328.10" width="34.00" height="18.60" fill="#fff" stroke="#000" stroke-width="1.8"/>
<text font-size="12.3" text-anchor="middle" class="b" textLength="12" lengthAdjust="spacingAndGlyphs" x="965.8" y="1341.9" xml:space="preserve">28</text>
<rect x="947.90" y="1355.90" width="34.50" height="18.80" fill="#fff" stroke="#000" stroke-width="1.8"/>
<text font-size="12.3" text-anchor="middle" class="b" textLength="12" lengthAdjust="spacingAndGlyphs" x="965.15" y="1369.7" xml:space="preserve">22</text>
<text font-size="11.7" font-family='"DejaVu Sans", "Liberation Sans", sans-serif' textLength="25" lengthAdjust="spacingAndGlyphs" x="669.4" y="1007.77" xml:space="preserve">7. 0</text>
<text font-size="11.7" font-family='"DejaVu Sans", "Liberation Sans", sans-serif' textLength="25" lengthAdjust="spacingAndGlyphs" x="669.4" y="1028.87" xml:space="preserve">6. 0</text>
<text font-size="11.7" font-family='"DejaVu Sans", "Liberation Sans", sans-serif' textLength="25" lengthAdjust="spacingAndGlyphs" x="669.4" y="1049.97" xml:space="preserve">5. 0</text>
<text font-size="11.7" font-family='"DejaVu Sans", "Liberation Sans", sans-serif' textLength="25" lengthAdjust="spacingAndGlyphs" x="669.4" y="1071.07" xml:space="preserve">4. 0</text>
<text font-size="11.7" font-family='"DejaVu Sans", "Liberation Sans", sans-serif' textLength="25" lengthAdjust="spacingAndGlyphs" x="669.4" y="1092.17" xml:space="preserve">3. 0</text>
<text font-size="11.7" font-family='"DejaVu Sans", "Liberation Sans", sans-serif' textLength="14.5" lengthAdjust="spacingAndGlyphs" x="678.3" y="1280.27" xml:space="preserve">11</text>
<text font-size="11.7" font-family='"DejaVu Sans", "Liberation Sans", sans-serif' textLength="7.8" lengthAdjust="spacingAndGlyphs" x="681.7" y="1301.27" xml:space="preserve">9</text>
<text font-size="11.7" font-family='"DejaVu Sans", "Liberation Sans", sans-serif' textLength="7.8" lengthAdjust="spacingAndGlyphs" x="681.7" y="1322.37" xml:space="preserve">7</text>
<text font-size="11.7" font-family='"DejaVu Sans", "Liberation Sans", sans-serif' textLength="7.8" lengthAdjust="spacingAndGlyphs" x="681.7" y="1343.47" xml:space="preserve">5</text>
<text font-size="11.7" font-family='"DejaVu Sans", "Liberation Sans", sans-serif' textLength="7.8" lengthAdjust="spacingAndGlyphs" x="681.7" y="1364.57" xml:space="preserve">3</text>
<text font-size="11.7" font-family='"DejaVu Sans", "Liberation Sans", sans-serif' textLength="16.1" lengthAdjust="spacingAndGlyphs" x="994.2" y="879.67" xml:space="preserve">50</text>
<text font-size="11.7" font-family='"DejaVu Sans", "Liberation Sans", sans-serif' textLength="16.1" lengthAdjust="spacingAndGlyphs" x="994.2" y="900.92" xml:space="preserve">48</text>
<text font-size="11.7" font-family='"DejaVu Sans", "Liberation Sans", sans-serif' textLength="16.1" lengthAdjust="spacingAndGlyphs" x="994.2" y="922.17" xml:space="preserve">44</text>
<text font-size="11.7" font-family='"DejaVu Sans", "Liberation Sans", sans-serif' textLength="16.1" lengthAdjust="spacingAndGlyphs" x="994.2" y="943.42" xml:space="preserve">40</text>
<text font-size="11.7" font-family='"DejaVu Sans", "Liberation Sans", sans-serif' textLength="16.1" lengthAdjust="spacingAndGlyphs" x="994.2" y="964.67" xml:space="preserve">36</text>
<text font-size="11.7" font-family='"DejaVu Sans", "Liberation Sans", sans-serif' textLength="16.1" lengthAdjust="spacingAndGlyphs" x="994.2" y="985.92" xml:space="preserve">32</text>
<text font-size="11.7" font-family='"DejaVu Sans", "Liberation Sans", sans-serif' textLength="24.7" lengthAdjust="spacingAndGlyphs" x="995.5" y="1135.17" xml:space="preserve">3. 6</text>
<text font-size="11.7" font-family='"DejaVu Sans", "Liberation Sans", sans-serif' textLength="24.7" lengthAdjust="spacingAndGlyphs" x="995.5" y="1156.22" xml:space="preserve">3. 2</text>
<text font-size="11.7" font-family='"DejaVu Sans", "Liberation Sans", sans-serif' textLength="24.7" lengthAdjust="spacingAndGlyphs" x="995.5" y="1177.27" xml:space="preserve">2. 8</text>
<text font-size="11.7" font-family='"DejaVu Sans", "Liberation Sans", sans-serif' textLength="24.7" lengthAdjust="spacingAndGlyphs" x="995.5" y="1198.32" xml:space="preserve">2. 4</text>
<text font-size="11.7" font-family='"DejaVu Sans", "Liberation Sans", sans-serif' textLength="24.7" lengthAdjust="spacingAndGlyphs" x="995.5" y="1219.37" xml:space="preserve">2. 0</text>
<text font-size="17.3" textLength="151.4" lengthAdjust="spacingAndGlyphs" transform="translate(654 1117.8) rotate(-90)" x="0" y="0" xml:space="preserve">Heating capacity (kW)</text>
<text font-size="17.3" textLength="75" lengthAdjust="spacingAndGlyphs" transform="translate(654 1313.6) rotate(-90)" x="0" y="0" xml:space="preserve">Current (A)</text>
<text font-size="17.3" textLength="182.5" lengthAdjust="spacingAndGlyphs" transform="translate(1048 1042.8) rotate(-90)" x="0" y="0" xml:space="preserve">Outlet air temperature (°C)</text>
<text font-size="17.3" textLength="220.3" lengthAdjust="spacingAndGlyphs" transform="translate(1048 1300) rotate(-90)" x="0" y="0" xml:space="preserve">Gas side pressure  H.P (MPa G)</text>
<text font-size="11.7" font-family='"DejaVu Sans", "Liberation Sans", sans-serif' textLength="7.4" lengthAdjust="spacingAndGlyphs" x="727.6" y="1397.57" xml:space="preserve">2</text>
<text font-size="11.7" font-family='"DejaVu Sans", "Liberation Sans", sans-serif' textLength="7.6" lengthAdjust="spacingAndGlyphs" x="843" y="1397.57" xml:space="preserve">7</text>
<text font-size="11.7" font-family='"DejaVu Sans", "Liberation Sans", sans-serif' textLength="15.6" lengthAdjust="spacingAndGlyphs" x="954.7" y="1397.57" xml:space="preserve">12</text>
<text font-size="16.5" textLength="194.2" lengthAdjust="spacingAndGlyphs" x="748.2" y="1419.7" xml:space="preserve">Outdoor temperature (°C)</text>
<text font-size="12" font-family='"Noto Sans CJK JP", "Liberation Sans", sans-serif' text-anchor="middle" x="739.1" y="1435.6" xml:space="preserve">＊</text>
<text font-size="11.3" fill="#111" textLength="262.6" lengthAdjust="spacing" x="745.9" y="1435.6" xml:space="preserve">22:35Hz  28:46Hz  32:52Hz  40:65Hz  50:83Hz</text>
<text font-size="12" font-family='"Noto Sans CJK JP", "Liberation Sans", sans-serif' text-anchor="middle" x="739.1" y="1451.4" xml:space="preserve">＊</text>
<text font-size="12.2" textLength="303" lengthAdjust="spacingAndGlyphs" x="746.8" y="1451.2" xml:space="preserve">Forced heating operation so the inside fan is set to HIGH</text>
<line x1="127" y1="1575.5" x2="269" y2="1575.5" stroke="#1c1ca8" stroke-width="1.3"/>
</svg></body></html>
